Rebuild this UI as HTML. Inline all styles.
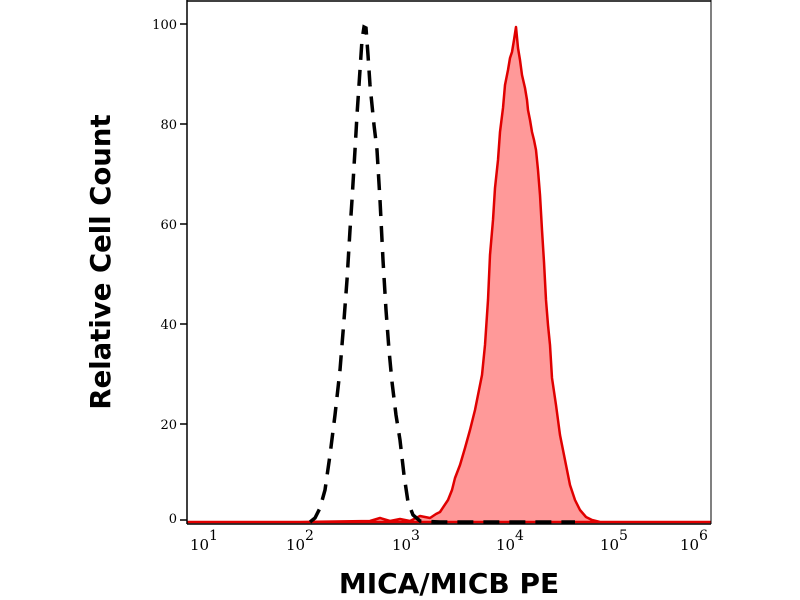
<!DOCTYPE html>
<html><head><meta charset="utf-8"><style>body{margin:0;background:#fff}svg{display:block}</style></head><body>
<svg width="800" height="600" xmlns="http://www.w3.org/2000/svg" font-family="DejaVu Serif, serif">
<rect width="800" height="600" fill="#fff"/>
<path d="M188,522 L300,522 L370,521 L380,518 L390,521 L400,519 L410,521 L420,516 L430,518 L436,514 L440,512 L448,500 L452,490 L455,478 L460,465 L465,448 L470,430 L475,410 L478,395 L482,375 L485,345 L488,300 L490,255 L493,220 L495,188 L498,160 L500,132 L503,108 L505,85 L508,70 L510,58 L512,52 L514,40 L516,27 L518,48 L520,60 L522,75 L525,88 L527,100 L528,110 L530,120 L532,132 L534,140 L536,150 L538,170 L540,195 L542,230 L544,262 L546,300 L548,325 L550,345 L552,378 L556,405 L560,435 L565,460 L570,485 L575,500 L580,510 L586,517 L592,520 L600,522 L710,522 Z" fill="#ff9999" stroke="#e00000" stroke-width="2.5" stroke-linejoin="round"/>
<polyline points="310,522 315,518 320,508 325,490 330,455 335,415 340,370 344,320 347,280 350,230 352,200 355,150 357,115 360,70 362,40 364,27 366,28 368,55 370,85 372,105 374,125 377,150 380,200 383,260 386,310 389,350 392,382 396,415 400,440 404,475 408,502 413,515 420,521 440,522 575,522" fill="none" stroke="#000" stroke-width="3.5" stroke-dasharray="16,10"/>
<line x1="187" y1="1" x2="711" y2="1" stroke="#000" stroke-width="1.5"/>
<line x1="187" y1="0" x2="187" y2="524" stroke="#000" stroke-width="1.5"/>
<line x1="187" y1="524" x2="711" y2="524" stroke="#000" stroke-width="1.5"/>
<line x1="711" y1="0" x2="711" y2="524" stroke="#000" stroke-width="1"/>
<g stroke="#000" stroke-width="1.5">
<line x1="180" y1="24" x2="187" y2="24"/><line x1="180" y1="124" x2="187" y2="124"/><line x1="180" y1="224" x2="187" y2="224"/><line x1="180" y1="324" x2="187" y2="324"/><line x1="180" y1="424" x2="187" y2="424"/><line x1="180" y1="520" x2="187" y2="520"/>
</g>
<g font-size="13" text-anchor="end" fill="#000">
<text x="177" y="29">100</text><text x="177" y="129">80</text><text x="177" y="229">60</text><text x="177" y="329">40</text><text x="177" y="429">20</text><text x="177" y="523">0</text>
</g>
<g id="xt" stroke="#000" stroke-width="1"></g>
<g font-size="15" fill="#000">
<text x="190" y="550">10</text><text x="209" y="540" font-size="14">1</text>
<text x="286" y="550">10</text><text x="305" y="540" font-size="14">2</text>
<text x="392" y="550">10</text><text x="411" y="540" font-size="14">3</text>
<text x="496" y="550">10</text><text x="515" y="540" font-size="14">4</text>
<text x="600" y="550">10</text><text x="619" y="540" font-size="14">5</text>
<text x="680" y="550">10</text><text x="699" y="540" font-size="14">6</text>
</g>
<text x="449" y="593" font-family="DejaVu Sans, sans-serif" font-weight="bold" font-size="28" text-anchor="middle">MICA/MICB PE</text>
<text transform="translate(110,262) rotate(-90)" font-family="DejaVu Sans, sans-serif" font-weight="bold" font-size="27.5" text-anchor="middle">Relative Cell Count</text>
<script>
var g=document.getElementById('xt'),s='';
for(var d=0;d<5;d++){for(var k=1;k<=10;k++){var x=188+104.6*(d+Math.log10(k));var L=(k==1||k==10)?8:4;s+='<line x1="'+x+'" y1="524" x2="'+x+'" y2="'+(524+L)+'"/>';}}
g.innerHTML=s;
</script>
</svg>
</body></html>
